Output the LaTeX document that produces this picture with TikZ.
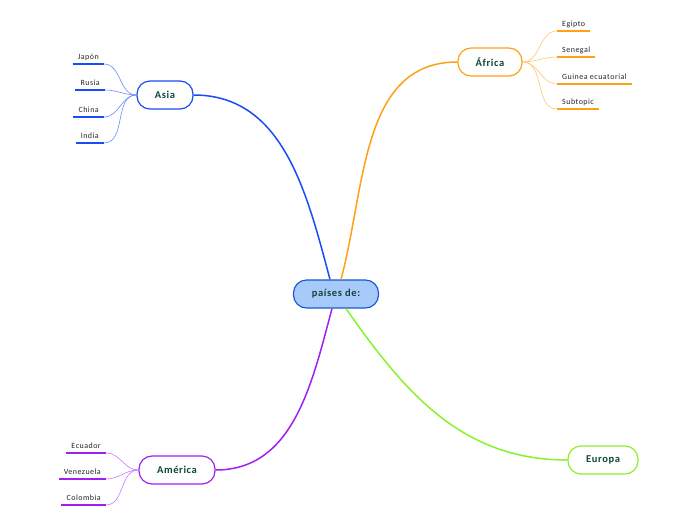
\documentclass[tikz,border=0pt]{standalone}
\usepackage{fontspec}
\setmainfont{Carlito}
\newfontfamily\mapfont[LetterSpace=6]{Carlito}
\usetikzlibrary{positioning}

\definecolor{rootfill}{HTML}{A8CAFA}
\definecolor{rootline}{HTML}{1A5BD0}
\definecolor{txtgreen}{HTML}{0D473A}
\definecolor{asiac}{HTML}{1A4CF5}
\definecolor{africac}{HTML}{FFA016}
\definecolor{americac}{HTML}{A01FF2}
\definecolor{europac}{HTML}{88F22A}

\begin{document}
\begin{tikzpicture}[
    x=1pt, y=1pt,
    topic/.style={rounded corners=13pt, draw, line width=1.2pt, fill=white, minimum height=28pt, inner xsep=4pt, font=\mapfont\fontsize{10.5}{12}\selectfont\bfseries, text=txtgreen},
    sub/.style={inner xsep=5pt, inner ysep=3pt, text height=6.5pt, text depth=1.5pt, font=\mapfont\fontsize{8}{9}\selectfont, text=black!85},
    branch/.style={line width=1.5pt},
    twig/.style={line width=0.6pt}
]
\useasboundingbox (0,0) rectangle (696,-520);

% zentrales Thema und Hauptzweige
\node[topic, draw=rootline, fill=rootfill, minimum width=85pt] (root) at (336,-294) {países de:};
\node[topic, draw=asiac, minimum width=56pt] (asia) at (165,-95) {Asia};
\node[topic, draw=africac, minimum width=64pt] (africa) at (490,-62) {África};
\node[topic, draw=americac, minimum width=76pt] (america) at (177,-470) {América};
\node[topic, draw=europac, minimum width=70pt] (europa) at (603,-460) {Europa};

\draw[branch, asiac] ([xshift=-6pt]root.north) to[out=105, in=0] (asia.east);
\draw[branch, africac] ([xshift=5pt]root.north) to[out=75, in=180] (africa.west);
\draw[branch, americac] ([xshift=-4pt]root.south) to[out=-105, in=0] (america.east);
\draw[branch, europac] ([xshift=10pt]root.south) to[out=-55, in=180] (europa.west);

% Unterthemen Asia
\node[sub, anchor=south east] (japon) at (104,-64) {Japón};
\node[sub, anchor=south east] (rusia) at (105,-90) {Rusia};
\node[sub, anchor=south east] (china) at (104,-117) {China};
\node[sub, anchor=south east] (india) at (104,-143) {India};

% Unterthemen Africa
\node[sub, anchor=south west] (egipto) at (557,-31) {Egipto};
\node[sub, anchor=south west] (senegal) at (557,-57) {Senegal};
\node[sub, anchor=south west] (guinea) at (557,-84) {Guinea ecuatorial};
\node[sub, anchor=south west] (subtopic) at (557,-109) {Subtopic};

% Unterthemen America
\node[sub, anchor=south east] (ecuador) at (106,-453) {Ecuador};
\node[sub, anchor=south east] (venezuela) at (106,-479) {Venezuela};
\node[sub, anchor=south east] (colombia) at (106,-505) {Colombia};

% Unterstriche
\foreach \n/\c in {japon/asiac, rusia/asiac, china/asiac, india/asiac,
                   egipto/africac, senegal/africac, guinea/africac, subtopic/africac,
                   ecuador/americac, venezuela/americac, colombia/americac}
    \draw[line width=1.8pt, \c] (\n.south west) -- (\n.south east);

% Verbindungen zu den Unterthemen
\foreach \n in {japon, rusia, china, india}
    \draw[twig, asiac!65] (asia.west) to[out=180, in=0] (\n.south east);
\foreach \n in {egipto, senegal, guinea, subtopic}
    \draw[twig, africac!60] (africa.east) to[out=0, in=180] (\n.south west);
\foreach \n in {ecuador, venezuela, colombia}
    \draw[twig, americac!60] (america.west) to[out=180, in=0] (\n.south east);

\end{tikzpicture}
\end{document}
